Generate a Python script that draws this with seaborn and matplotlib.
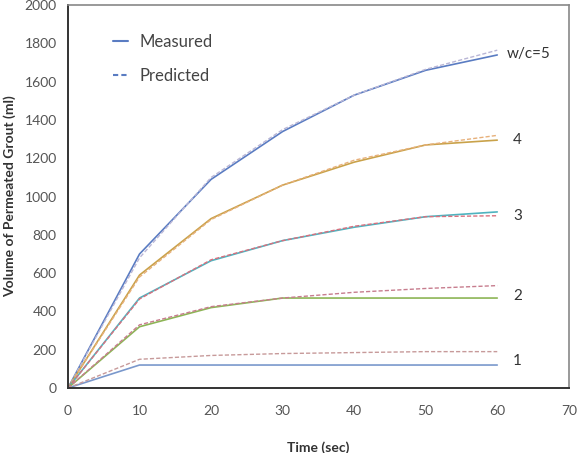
import numpy as np
import pandas as pd
import matplotlib
matplotlib.use("Agg")
import matplotlib.pyplot as plt
import seaborn as sns
from matplotlib.lines import Line2D

time_sec = [0, 10, 20, 30, 40, 50, 60]

wc_labels = ["w/c=5", "4", "3", "2", "1"]
measured = {
    "w/c=5": [0, 700, 1090, 1340, 1530, 1660, 1740],
    "4": [0, 590, 885, 1060, 1180, 1270, 1295],
    "3": [0, 470, 665, 770, 840, 895, 920],
    "2": [0, 320, 420, 470, 470, 470, 470],
    "1": [0, 120, 120, 120, 120, 120, 120],
}
predicted = {
    "w/c=5": [0, 680, 1100, 1350, 1530, 1665, 1765],
    "4": [0, 580, 880, 1060, 1190, 1270, 1320],
    "3": [0, 465, 670, 770, 845, 895, 900],
    "2": [0, 330, 425, 470, 500, 520, 535],
    "1": [0, 150, 170, 180, 185, 190, 190],
}
label_y = [1745, 1295, 900, 480, 140]

meas_colors = ["#5a7cc2", "#c9a24a", "#4fb3bf", "#8db556", "#7a98cc"]
pred_colors = ["#b9b6d6", "#e7b07a", "#d9707e", "#c77d8e", "#c79a9a"]

sns.set_style("white")
plt.rcParams['font.family'] = ['Lato', 'DejaVu Sans']

fig = plt.figure(figsize=(5.81, 4.53), dpi=100)
ax = fig.add_axes([0.117, 0.1435, 0.862, 0.845])

for i, wc in enumerate(wc_labels):
    df = pd.DataFrame({"t": time_sec, "m": measured[wc], "p": predicted[wc]})
    sns.lineplot(data=df, x="t", y="m", ax=ax, color=meas_colors[i], lw=1.2)
    sns.lineplot(data=df, x="t", y="p", ax=ax, color=pred_colors[i], lw=1.0,
                 linestyle=(0, (3, 1.5)))
    ax.text(61.3 if i == 0 else 62.2, label_y[i], wc, fontsize=11, color="#333333",
            va="center", ha="left")

ax.set_xlim(0, 70)
ax.set_ylim(0, 2000)
ax.set_xticks(range(0, 71, 10))
ax.set_yticks(range(0, 2001, 200))
ax.tick_params(axis="x", direction="in", length=4, pad=12, labelsize=10, colors="#444444")
ax.tick_params(axis="y", direction="out", length=4, pad=4, labelsize=10, colors="#444444")
ax.tick_params(axis="both", labelcolor="#555555")

for s in ["top", "right"]:
    ax.spines[s].set_color("#888888")
    ax.spines[s].set_linewidth(1.2)
for s in ["left", "bottom"]:
    ax.spines[s].set_color("#333333")
    ax.spines[s].set_linewidth(1.4)

ax.set_xlabel("Time (sec)", fontsize=10, fontweight="bold", color="#333333", labelpad=18)
ax.set_ylabel("Volume of Permeated Grout (ml)", fontsize=10, fontweight="bold", color="#333333", labelpad=6)

handles = [Line2D([], [], color="#5a7cc2", lw=1.5),
           Line2D([], [], color="#5a7cc2", lw=1.5, linestyle=(0, (2.5, 1.5)))]
ax.legend(handles, ["Measured", "Predicted"], loc="upper left", bbox_to_anchor=(0.06, 0.965),
          frameon=False, fontsize=12, handlelength=0.9, handletextpad=0.7,
          labelspacing=1.1, labelcolor="#444444")

fig.savefig("out.png", dpi=100)
